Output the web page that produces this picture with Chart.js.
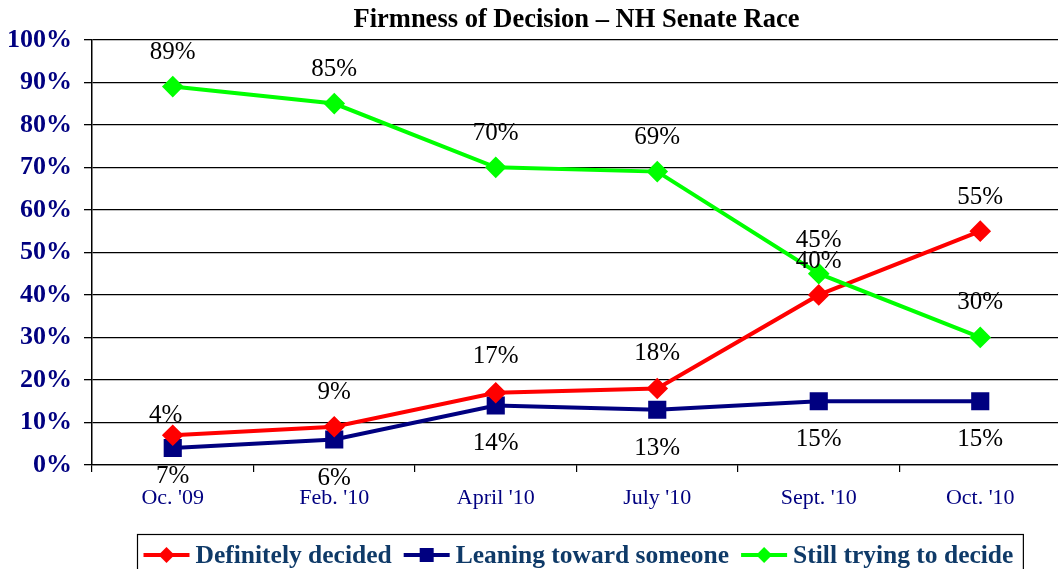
<!DOCTYPE html>
<html>
<head>
<meta charset="utf-8">
<script src="https://cdn.jsdelivr.net/npm/chart.js@4/dist/chart.umd.min.js"></script>
<style>
  html, body { margin: 0; padding: 0; background: #fff; overflow: hidden; }
  #wrap { width: 1075px; height: 569px; }
</style>
</head>
<body>
<div id="wrap"><canvas id="c" width="1075" height="569"></canvas></div>
<script>
const categories = ["Oc. '09", "Feb. '10", "April '10", "July '10", "Sept. '10", "Oct. '10"];
const seriesNames = ["Definitely decided", "Leaning toward someone", "Still trying to decide"];
const definitelyDecided = [7, 9, 17, 18, 40, 55];
const leaningToward = [4, 6, 14, 13, 15, 15];
const stillTrying = [89, 85, 70, 69, 45, 30];
const definitelyLabels = ["4%", "9%", "17%", "18%", "40%", "55%"];
const leaningLabels = ["7%", "6%", "14%", "13%", "15%", "15%"];
const stillLabels = ["89%", "85%", "70%", "69%", "45%", "30%"];
const yTicks = [0, 10, 20, 30, 40, 50, 60, 70, 80, 90, 100];

const SERIF = "'Liberation Serif', 'Times New Roman', serif";

const dataLabelPlugin = {
  id: 'dataLabels',
  afterDatasetsDraw(chart) {
    const ctx = chart.ctx;
    ctx.save();
    ctx.font = "25px " + SERIF;
    ctx.fillStyle = '#000';
    ctx.textAlign = 'center';
    ctx.textBaseline = 'middle';
    chart.data.datasets.forEach((ds, di) => {
      const meta = chart.getDatasetMeta(di);
      const offs = ds.labelOffsets;
      meta.data.forEach((pt, i) => {
        ctx.fillText(ds.valueLabels[i], pt.x + (offs.dx[i] || 0), pt.y + offs.dy[i]);
      });
    });
    ctx.restore();
  }
};

function drawMarker(ctx, style, color, x, y) {
  ctx.fillStyle = color;
  ctx.beginPath();
  if (style === 'rect') {
    ctx.rect(x - 7, y - 7, 14, 14);
  } else {
    ctx.moveTo(x, y - 8); ctx.lineTo(x + 8, y); ctx.lineTo(x, y + 8); ctx.lineTo(x - 8, y);
    ctx.closePath();
  }
  ctx.fill();
}

const legendPlugin = {
  id: 'boxLegend',
  afterDraw(chart) {
    const ctx = chart.ctx;
    ctx.save();
    ctx.font = "bold 25.5px " + SERIF;
    const markerW = 46, gapMT = 6, gapItem = 12, padL = 6, padR = 10;
    const items = chart.data.datasets.map(ds => ({
      text: ds.label, color: ds.borderColor, style: ds.pointStyle,
      w: ctx.measureText(ds.label).width
    }));
    let total = padL + padR;
    items.forEach((it, i) => { total += markerW + gapMT + it.w + (i < items.length - 1 ? gapItem : 0); });
    const cx = 580;
    const left = Math.round(cx - total / 2) + 0.5;
    const top = 534.5;
    ctx.strokeStyle = '#000';
    ctx.lineWidth = 1.2;
    ctx.strokeRect(left, top, total, 60);
    let x = left + padL;
    const y = 555;
    items.forEach((it) => {
      ctx.strokeStyle = it.color;
      ctx.lineWidth = 4;
      ctx.beginPath(); ctx.moveTo(x, y); ctx.lineTo(x + markerW, y); ctx.stroke();
      drawMarker(ctx, it.style, it.color, x + markerW / 2, y);
      x += markerW + gapMT;
      ctx.fillStyle = '#0f3a68';
      ctx.textAlign = 'left';
      ctx.textBaseline = 'middle';
      ctx.fillText(it.text, x, y + 1);
      x += it.w + gapItem;
    });
    ctx.restore();
  }
};

new Chart(document.getElementById('c'), {
  type: 'line',
  data: {
    labels: categories,
    datasets: [
      {
        label: seriesNames[0], data: definitelyDecided, valueLabels: definitelyLabels,
        labelOffsets: { dx: [-7, 0, 0, 0, 0, 0], dy: [-20, -34, -36, -35, -33, -34] },
        borderColor: '#FF0000', backgroundColor: '#FF0000', pointStyle: 'rectRot',
        pointRadius: 8, pointHoverRadius: 8, borderWidth: 4, tension: 0, order: 2
      },
      {
        label: seriesNames[1], data: leaningToward, valueLabels: leaningLabels,
        labelOffsets: { dx: [0, 0, 0, 0, 0, 0], dy: [28, 39, 38, 39, 38, 38] },
        borderColor: '#000080', backgroundColor: '#000080', pointStyle: 'rect',
        pointRadius: 10, pointHoverRadius: 10, borderWidth: 4, tension: 0, order: 3
      },
      {
        label: seriesNames[2], data: stillTrying, valueLabels: stillLabels,
        labelOffsets: { dx: [0, 0, 0, 0, 0, 0], dy: [-34, -34, -34, -34, -33, -35] },
        borderColor: '#00FF00', backgroundColor: '#00FF00', pointStyle: 'rectRot',
        pointRadius: 8, pointHoverRadius: 8, borderWidth: 4, tension: 0, order: 1
      }
    ]
  },
  options: {
    responsive: false,
    animation: false,
    layout: { padding: { left: 0, right: 0, top: 0, bottom: 0 } },
    plugins: {
      legend: { display: false },
      tooltip: { enabled: false },
      title: {
        display: true,
        text: 'Firmness of Decision – NH Senate Race',
        fullSize: false,
        color: '#000',
        font: { family: SERIF, size: 26.5, weight: 'bold' },
        padding: { top: 4, bottom: 4 }
      }
    },
    scales: {
      x: {
        type: 'category',
        offset: true,
        grid: { offset: true, drawOnChartArea: false, color: '#000', lineWidth: 1.2, tickLength: 7 },
        border: { display: true, color: '#000', width: 1.2 },
        ticks: { color: '#000080', font: { family: SERIF, size: 22 }, padding: 13, maxRotation: 0, autoSkip: false },
        afterFit(scale) { scale.height = 104; }
      },
      y: {
        min: 0, max: 100,
        afterBuildTicks(scale) { scale.ticks = yTicks.map(v => ({ value: v })); },
        grid: { color: '#000', lineWidth: 1.3, tickLength: 8 },
        border: { display: true, color: '#000', width: 1.5 },
        ticks: { color: '#000080', font: { family: SERIF, size: 26, weight: 'bold' }, padding: 12,
                 callback: v => v + '%' },
        afterFit(scale) { scale.width = 92; }
      }
    }
  },
  plugins: [dataLabelPlugin, legendPlugin]
});
</script>
</body>
</html>
